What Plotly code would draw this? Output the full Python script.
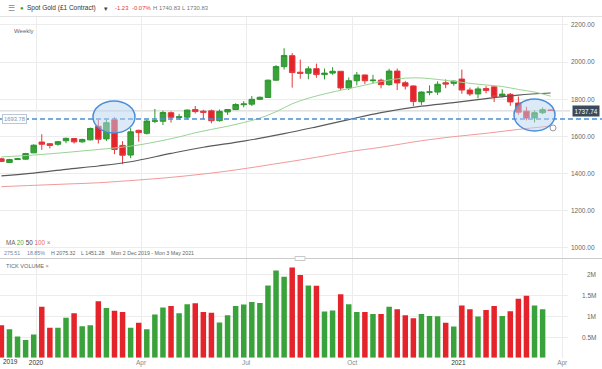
import plotly.graph_objects as go
import pandas as pd

# ---------------- data (weekly, from Mon 2 Dec 2019) ----------------
start_week = "2019-12-02"
opens = [1480, 1460, 1476, 1478, 1512, 1570, 1561, 1558, 1577, 1589,
         1571, 1582, 1655, 1587, 1690, 1552, 1500, 1633, 1617, 1682,
         1682, 1728, 1702, 1704, 1745, 1736, 1738, 1685, 1732, 1745,
         1771, 1774, 1800, 1810, 1903, 1976, 2035, 1946, 1940, 1965,
         1933, 1941, 1951, 1861, 1900, 1931, 1900, 1903, 1879, 1952,
         1889, 1872, 1787, 1838, 1839, 1889, 1886, 1909, 1850, 1829,
         1858, 1867, 1818, 1827, 1780, 1736, 1700, 1728, 1743]
highs = [1485, 1480, 1482, 1512, 1558, 1612, 1564, 1575, 1594, 1592,
         1588, 1648, 1689, 1692, 1703, 1575, 1645, 1637, 1690, 1748,
         1739, 1735, 1722, 1745, 1764, 1744, 1745, 1745, 1746, 1779,
         1790, 1818, 1815, 1906, 1984, 2075, 2049, 2014, 1978, 1992,
         1966, 1973, 1951, 1918, 1947, 1933, 1932, 1911, 1965, 1966,
         1899, 1875, 1843, 1875, 1897, 1907, 1901, 1960, 1863, 1868,
         1871, 1870, 1854, 1834, 1815, 1760, 1740, 1756, 1745]
lows = [1462, 1457, 1474, 1475, 1510, 1528, 1536, 1550, 1564, 1562,
        1566, 1578, 1562, 1576, 1505, 1451, 1483, 1572, 1610, 1672,
        1662, 1675, 1689, 1690, 1724, 1693, 1671, 1680, 1716, 1743,
        1757, 1764, 1796, 1808, 1900, 1960, 1863, 1911, 1908, 1916,
        1907, 1932, 1848, 1850, 1875, 1882, 1886, 1859, 1873, 1850,
        1853, 1764, 1770, 1822, 1824, 1860, 1873, 1830, 1818, 1805,
        1832, 1785, 1810, 1765, 1717, 1687, 1676, 1720, 1738]
closes = [1466, 1476, 1480, 1508, 1553, 1558, 1552, 1572, 1590, 1571,
          1584, 1643, 1585, 1674, 1530, 1499, 1625, 1621, 1683, 1684,
          1729, 1703, 1706, 1742, 1734, 1730, 1685, 1735, 1745, 1772,
          1775, 1800, 1811, 1903, 1976, 2036, 1944, 1940, 1964, 1933,
          1941, 1951, 1861, 1900, 1931, 1900, 1903, 1879, 1952, 1888,
          1871, 1788, 1839, 1840, 1881, 1882, 1898, 1850, 1829, 1856,
          1848, 1814, 1828, 1786, 1731, 1699, 1728, 1744, 1740]
tick_volume_m = [0.78, 0.685, 0.51, 0.43, 0.56, 1.23, 0.72, 0.72, 0.96, 1.07,
                 0.76, 0.78, 1.36, 1.20, 1.13, 1.10, 0.72, 0.84, 0.685, 1.04,
                 1.21, 1.245, 1.07, 1.29, 1.31, 1.10, 1.085, 0.85, 1.02, 1.245,
                 1.28, 1.34, 1.32, 1.74, 2.10, 1.95, 2.17, 1.99, 1.74, 1.73,
                 1.11, 1.14, 1.53, 1.29, 1.10, 1.10, 1.05, 1.05, 1.23, 1.17,
                 1.02, 0.95, 1.05, 1.005, 1.0, 0.84, 0.75, 1.26, 1.17, 0.99,
                 1.15, 1.245, 1.005, 1.12, 1.42, 1.49, 1.26, 1.17, 0.0]

# moving averages (week index -> value)
ma20_weeks = [0, 4, 8, 12, 16, 19, 22, 24, 26, 28, 30, 32, 34, 36, 38, 40, 42,
              44, 46, 48, 50, 52, 54, 56, 58, 60, 62, 64, 66, 68]
ma20_vals = [1490, 1500, 1514, 1530, 1548, 1570, 1598, 1620, 1638, 1655, 1675,
             1699, 1733, 1776, 1806, 1829, 1849, 1867, 1886, 1904, 1914, 1915,
             1907, 1897, 1886, 1877, 1869, 1853, 1839, 1817]
ma50_weeks = [0, 4, 8, 12, 16, 21, 25, 30, 35, 39, 43, 47, 52, 56, 60, 64, 68]
ma50_vals = [1388, 1403, 1423, 1441, 1464, 1509, 1542, 1575, 1615, 1652, 1691,
             1728, 1763, 1782, 1804, 1823, 1834]
ma100_weeks = [0, 4, 8, 12, 17, 21, 25, 29, 35, 39, 43, 47, 52, 56, 60, 64, 68]
ma100_vals = [1330, 1337, 1344, 1351, 1366, 1380, 1398, 1420, 1460, 1488, 1518,
              1542, 1577, 1599, 1617, 1638, 1656]

price_ticks = [1000, 1200, 1400, 1600, 1800, 2000, 2200]
vol_ticks = [0.5, 1.0, 1.5, 2.0]
vol_tick_text = ["0.5M", "1M", "1.5M", "2M"]
x_tick_dates = ["2020-01-01", "2020-04-01", "2020-07-01", "2020-10-01",
                "2021-01-01", "2021-04-01"]
x_tick_text = ["2020", "Apr", "Jul", "Oct", "2021", "Apr"]
hline_level = 1693.78
last_price = 1737.74

# ---------------- figure ----------------
W, H = 602, 369
FONT = "Liberation Sans, Arial, sans-serif"
GREEN = "#3aa23a"
RED = "#e4232a"


def px(x):
    return x / W


def py(y):
    return 1 - y / H


weeks = pd.date_range(start_week, periods=len(opens), freq="7D")
vol_colors = [GREEN if c >= o else RED for o, c in zip(opens, closes)]

fig = go.Figure()

# moving averages (behind candles)
fig.add_trace(go.Scatter(x=weeks[ma100_weeks], y=ma100_vals, mode="lines",
                         line=dict(color="#f19a9a", width=1, shape="spline"),
                         xaxis="x", yaxis="y", hoverinfo="skip"))
fig.add_trace(go.Scatter(x=weeks[ma50_weeks], y=ma50_vals, mode="lines",
                         line=dict(color="#5a5a5a", width=1.2, shape="spline"),
                         xaxis="x", yaxis="y", hoverinfo="skip"))
fig.add_trace(go.Scatter(x=weeks[ma20_weeks], y=ma20_vals, mode="lines",
                         line=dict(color="#98d494", width=1, shape="spline"),
                         xaxis="x", yaxis="y", hoverinfo="skip"))

fig.add_trace(go.Candlestick(
    x=weeks, open=opens, high=highs, low=lows, close=closes,
    increasing=dict(line=dict(color="#2e962e", width=1), fillcolor=GREEN),
    decreasing=dict(line=dict(color="#e4383e", width=1), fillcolor=RED),
    xaxis="x", yaxis="y", whiskerwidth=0, hoverinfo="skip"))

fig.add_trace(go.Bar(x=weeks, y=tick_volume_m, marker=dict(color=vol_colors, line=dict(width=0)),
                     width=0.68 * 7 * 86400000, xaxis="x2", yaxis="y2", hoverinfo="skip"))

x_range = ["2019-11-30 19:00", "2021-04-06 00:00"]
dom_x = [0, px(568)]
grid = "#ececec"
tick_font = dict(family=FONT, size=6.5, color="#666")

fig.update_layout(
    width=W, height=H, template="none",
    margin=dict(l=0, r=0, t=0, b=0),
    paper_bgcolor="white", plot_bgcolor="white",
    showlegend=False, font=dict(family=FONT),
    boxgap=0.15, boxgroupgap=0.2,
    xaxis=dict(domain=dom_x, range=x_range, type="date", anchor="y",
               showticklabels=False, tickvals=x_tick_dates, ticks="",
               showgrid=True, gridcolor=grid, gridwidth=1, zeroline=False,
               showline=False, rangeslider=dict(visible=False), automargin=False),
    xaxis2=dict(domain=dom_x, range=x_range, type="date", anchor="y2", matches="x",
                tickvals=x_tick_dates,
                ticktext=[("<span style='color:#333'>%s</span>" % t) if t[0].isdigit() else t
                          for t in x_tick_text],
                ticks="", tickfont=dict(family=FONT, size=6.5, color="#888"),
                showgrid=True, gridcolor=grid, zeroline=False, showline=False,
                automargin=False),
    yaxis=dict(domain=[py(258), py(17)], range=[946, 2243], side="right", anchor="x",
               tickvals=price_ticks, ticktext=["%.2f" % v for v in price_ticks],
               ticks="", tickfont=tick_font, showgrid=True, gridcolor=grid,
               zeroline=False, showline=False, automargin=False, ticklabelstandoff=2),
    yaxis2=dict(domain=[py(357.8), py(259)], range=[0, 2.375], side="right", anchor="x2",
                tickvals=vol_ticks, showticklabels=False, ticks="",
                showgrid=True, gridcolor=grid, zeroline=False, showline=False,
                automargin=False),
)

shapes = [
    # header bottom border
    dict(type="line", xref="paper", yref="paper", x0=0, x1=1, y0=py(16.5), y1=py(16.5),
         line=dict(color="#e2e2e2", width=1)),
    # panel separator
    dict(type="line", xref="paper", yref="paper", x0=0, x1=1, y0=py(258.5), y1=py(258.5),
         line=dict(color="#cccccc", width=1)),
    dict(type="rect", xref="paper", yref="paper", x0=px(295), x1=px(305), y0=py(260.5), y1=py(256.5),
         line=dict(color="#c8c8c8", width=1), fillcolor="white"),
    # current price line
    dict(type="line", xref="paper", yref="y", x0=0, x1=px(570), y0=last_price, y1=last_price,
         line=dict(color="#cfcfcf", width=1), layer="below"),
    # dashed horizontal level
    dict(type="line", xref="paper", yref="y", x0=0, x1=1, y0=hline_level, y1=hline_level,
         line=dict(color="#4a8ed8", width=1.5, dash="5px,3px"), layer="above"),
    # highlight ellipses
    dict(type="circle", xref="x", yref="y", x0="2020-02-19 09:00", x1="2020-03-26 18:00",
         y0=1619, y1=1791, fillcolor="rgba(186,212,240,0.5)",
         line=dict(color="#4a8ed8", width=1.5), layer="above"),
    dict(type="circle", xref="x", yref="y", x0="2021-02-18 05:00", x1="2021-03-25 17:00",
         y0=1630, y1=1802, fillcolor="rgba(186,212,240,0.5)",
         line=dict(color="#4a8ed8", width=1.5), layer="above"),
    # small alert marker
    dict(type="circle", xref="x", yref="y", xsizemode="pixel", ysizemode="pixel",
         xanchor="2021-03-24", yanchor=1646, x0=-3, x1=3, y0=-3, y1=3,
         line=dict(color="#9a9a9a", width=1), fillcolor="white", layer="above"),
]
fig.update_layout(shapes=shapes)


def note(text, x, y, size=6.5, color="#555", xanchor="left", **kw):
    return dict(text=text, xref="paper", yref="paper", x=px(x), y=py(y), showarrow=False,
                xanchor=xanchor, yanchor="middle", font=dict(family=FONT, size=size, color=color), **kw)


ann = [
    note("☰", 6, 8, size=8, color="#888"),
    note("●", 18, 8, size=6, color="#2fa52f"),
    note("Spot Gold (£1 Contract)", 25, 8, size=6.5, color="#333"),
    note("▾", 102, 8, size=7, color="#444"),
    note("-1.23", 113, 8, size=5.9, color="#e0393e"),
    note("-0.07%", 130, 8, size=5.9, color="#e0393e"),
    note("H 1740.83", 151, 8, size=5.9, color="#777"),
    note("L 1730.83", 180, 8, size=5.9, color="#777"),
    note("Weekly", 12, 31.5, size=6, color="#666"),
    note("MA <span style='color:#4cae4c'>20</span> <span style='color:#444'>50</span> "
         "<span style='color:#e46a6a'>100</span> <span style='color:#888'>×</span>",
         4, 242, size=6.3, color="#666"),
    note("275.51", 2, 253.3, size=5.3, color="#6d86a8"),
    note("18.85%", 25, 253.3, size=5.3, color="#6d86a8"),
    note("H 2075.32", 49, 253.3, size=5.3, color="#666"),
    note("L 1451.28", 79, 253.3, size=5.3, color="#666"),
    note("Mon 2 Dec 2019 - Mon 3 May 2021", 109, 253.3, size=5.3, color="#666"),
    note("TICK VOLUME <span style='color:#888'>×</span>", 4, 266, size=5.6, color="#666"),
    note("2019", 10, 361.5, size=6.5, color="#333", xanchor="center"),
    dict(text="1693.78", xref="paper", yref="y", x=px(2), y=hline_level, showarrow=False,
         xanchor="left", yanchor="middle", bgcolor="white", bordercolor="#b9c6d6",
         borderwidth=1, borderpad=1, font=dict(family=FONT, size=5.8, color="#7d95b5")),
    dict(text="1737.74", xref="paper", yref="y", x=px(600), y=last_price, showarrow=False,
         xanchor="right", yanchor="middle", bgcolor="#3b4a5b", borderpad=1.5,
         font=dict(family=FONT, size=6.3, color="white")),
]
for v, t in zip(vol_ticks, vol_tick_text):
    ann.append(dict(text=t, xref="paper", yref="y2", x=px(598), y=v, showarrow=False,
                    xanchor="right", yanchor="middle", font=tick_font))
fig.update_layout(annotations=ann)

fig.write_html("out.html", config={"displayModeBar": False},
               post_script="document.body.style.margin='0px';")
